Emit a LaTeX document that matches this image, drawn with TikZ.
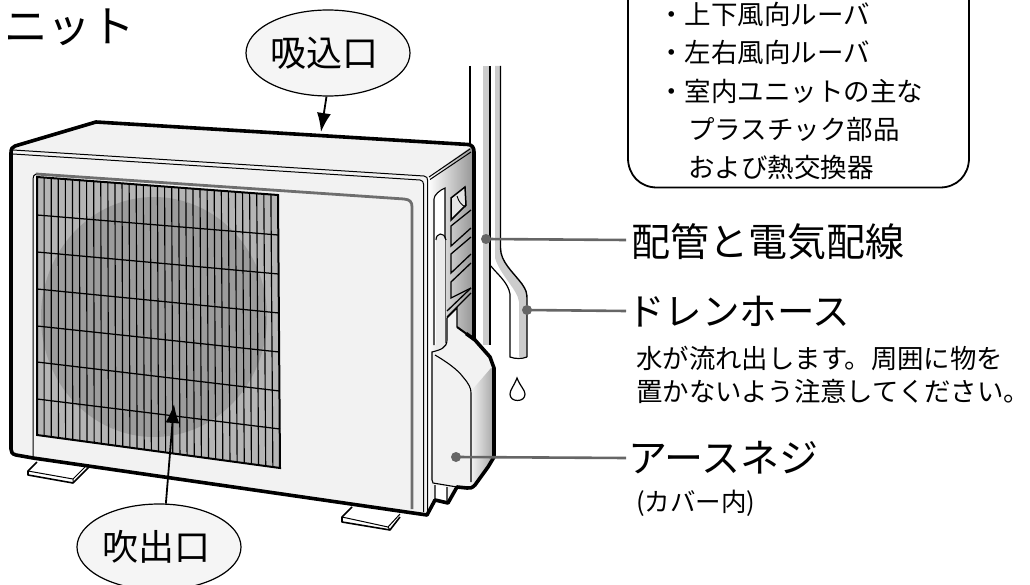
\documentclass[tikz,border=0pt]{standalone}
\usepackage{fontspec}
\setmainfont{Noto Sans CJK JP}
\usetikzlibrary{shapes.geometric,arrows.meta}
\definecolor{bodyc}{HTML}{F2F2F2}
\definecolor{leader}{HTML}{666666}
\definecolor{panelg}{HTML}{6E6E6E}
\definecolor{pipeg}{HTML}{CCCCCC}
\definecolor{barg}{HTML}{B5B5B5}
\definecolor{fang}{HTML}{9C9C9C}
\tikzset{
  ln/.style={line width=1.2pt,black},
  thick body/.style={line width=3.6pt,black,line join=round},
  bubble/.style={ellipse,draw=black,line width=1.2pt,fill=white!96!black,minimum width=164pt,minimum height=86pt,inner sep=0pt,font=\fontsize{36}{36}\selectfont},
  dotn/.style={circle,fill=leader,minimum size=10pt,inner sep=0pt},
  leadline/.style={draw=leader,line width=2.6pt},
  big/.style={anchor=base west,inner sep=0pt,font=\fontsize{39}{39}\selectfont},
  small/.style={anchor=base west,inner sep=0pt,font=\fontsize{26.4}{26.4}\selectfont},
  callt/.style={anchor=base west,inner sep=0pt,font=\fontsize{26.5}{26.5}\selectfont},
  arr/.style={line width=1.8pt,-{Latex[length=19pt,width=14pt]}},
  foot/.style={fill=white,draw=black,line width=1.6pt,line join=round}
}
\begin{document}
\begin{tikzpicture}[x=1pt,y=-1pt]
\useasboundingbox (0,0) rectangle (1030,585);
% wall line
\draw[line width=1.6pt] (470,66) -- (470,145);
% pipes
\fill[pipeg] (483,66) rectangle (489,345);
\fill[pipeg] (495,66) -- (500,66) -- (500,248) .. controls (500,262) and (512,272) .. (522,284) .. controls (526,290) and (527,292) .. (527,300) -- (527,357) -- (519,357) -- (519,302) .. controls (518,290) and (500,275) .. (495,258) -- cycle;
\draw[ln] (490,66) -- (490,345);
\draw[line width=1.4pt] (500.5,66) -- (500.5,248) .. controls (500.5,262) and (513,272) .. (522,284) .. controls (526,290) and (527,292) .. (527,300) -- (527,357);
\draw[ln] (490,265) .. controls (497,274) and (508,282) .. (510,294) -- (510,357) .. controls (515,359) and (522,359) .. (527,357);
% water drop
\draw[line width=1.2pt,fill=white] (517,378) .. controls (514,386) and (510,390) .. (510,394) .. controls (510,398) and (513,400.5) .. (517.5,400.5) .. controls (522,400.5) and (525,398) .. (525,394) .. controls (525,390) and (520,386) .. (517,378) -- cycle;
% feet
\draw[foot] (37,462) -- (28,471) -- (28,475) -- (73,483) -- (89,467);
\draw[line width=1pt] (28,471) -- (73,479) -- (85,467) (73,479) -- (73,483);
\draw[foot] (352,507) -- (342,517) -- (342,522) -- (390,530) -- (400,517);
\draw[line width=1pt] (342,517) -- (388,527) -- (400,514) (388,527) -- (390,530);
% body silhouette
\fill[bodyc] (11,153) -- (14,146) -- (96,122) -- (470,145) -- (474,150) -- (474,340) -- (457,340) -- (457,488) -- (448,503) -- (435,500) -- (427,515) -- (33,458) -- (14,454) -- (11,450) -- cycle;
% side face
\shade[left color=white,middle color=black!8,right color=black!42] (428,177) -- (471,147) -- (474,150) -- (474,345) -- (457,345) -- (432,352) -- (430,516) -- (428,515) -- cycle;
% top line pair
\draw[line width=1pt] (13,150) -- (424,176) .. controls (427,176.5) and (427.5,178) .. (427.5,180) -- (427.5,513);
\draw[line width=1pt] (13,154) -- (420,180) .. controls (422.5,180.5) and (423.5,182) .. (423.5,184) -- (423.5,512);
\draw[line width=1pt] (429,177) -- (470,149);
\draw[line width=1pt] (430,179.5) -- (471,152);
% inner panel
\draw[panelg,line width=2.8pt] (36,174) -- (404,199) .. controls (410,199.5) and (412,202) .. (412,207) -- (412,509);
\draw[line width=1pt] (33,458) -- (33,179) .. controls (33,176) and (34,175) .. (36,174);
% grille
\fill[barg] (37,177) -- (278,195) -- (280,468) -- (37,435) -- cycle;
\begin{scope}
\clip (37,177) -- (278,195) -- (280,468) -- (37,435) -- cycle;
\fill[fang] (154,317) ellipse [x radius=113,y radius=120];
\end{scope}
\foreach \i in {1,...,33}{
  \pgfmathsetmacro{\xa}{37+\i*241/34}
  \pgfmathsetmacro{\xb}{37+\i*243/34}
  \pgfmathsetmacro{\ya}{177+\i*18/34}
  \pgfmathsetmacro{\yb}{435+\i*33/34}
  \draw[line width=1.15pt] (\xa,\ya) -- (\xb,\yb);
}
\draw[line width=1.25pt] (37,215) -- (278,235) (37,252) -- (278.5,274) (37,289) -- (279,313) (37,326) -- (279,352) (37,362) -- (279.5,391) (37,399) -- (280,429);
\draw[line width=2pt,line join=miter] (37,177) -- (278,195) -- (280,468) -- (37,435) -- cycle;
% side details
\draw[line width=1.1pt,fill=white] (434,345) -- (434,199) .. controls (434,195) and (440,190) .. (445,188) -- (445,343);
\fill[black!8] (436,350) -- (436,240) .. controls (436,233) and (444,233) .. (445,240) -- (445,350) -- cycle;
\draw[line width=1.1pt] (436,240) .. controls (436,233) and (444,231) .. (446,240);
\draw[line width=1.5pt,fill=white!90!black] (451,198) -- (465,187) -- (466,205) -- (451,220) -- cycle;
\draw[line width=.9pt] (457,196) .. controls (459,202) and (461,205) .. (466,207);
\draw[line width=1.3pt] (471,210) -- (451,226) -- (451,246) -- (471,228);
\draw[line width=1.3pt] (471,237) -- (451,254) -- (451,273) -- (471,254);
\draw[line width=1.3pt] (471,263) -- (451,282) -- (451,298) -- (471,288);
\draw[line width=1.3pt] (471,288) -- (447,311) (471,293) -- (447,317);
% cover
\path[fill=bodyc] (432,352) .. controls (440,350) and (447,348) .. (447,340) -- (447,318) -- (457,308) -- (457,327) -- (475,340) -- (490,357) -- (494,368) -- (494,457) -- (488,467) -- (475,485) -- (470,488) -- (433,483) -- (432,480) -- cycle;
\shade[left color=black!5,right color=black!35] (472,390) -- (491,368) -- (494,368) -- (494,457) -- (488,467) -- (475,485) -- (471,487) -- cycle;
\draw[line width=1.1pt] (447,318) -- (447,340) .. controls (447,348) and (440,350) .. (432,352) -- (432,480) -- (433,483) -- (457,487);
\draw[line width=1.1pt] (447,318) -- (457,308) -- (457,327);
\draw[line width=1.1pt] (435,355) .. controls (447,362) and (458,370) .. (463,377) .. controls (469,384) and (471,388) .. (471,393) -- (471,482);
\draw[line width=1.1pt,fill=white] (435,485) -- (435,500) -- (447,503) -- (447,487);
% outline
\draw[thick body] (11,153) .. controls (11,149) and (12,147) .. (15,146) -- (96,122) -- (468,144.5) .. controls (472,145) and (474,147) .. (474,152) -- (474,340);
\draw[line width=2pt] (457,327) -- (466,333.5);
\draw[thick body] (466,333.5) -- (475,340) -- (490,357) -- (494,368) -- (494,457) -- (488,467) -- (475,485) .. controls (472,488) and (470,488.5) .. (467,488) -- (457,487) -- (448,503) -- (435,500) -- (427,515) -- (33,458) -- (16,455) .. controls (12,454) and (11,452) .. (11,449) -- (11,153);
% callout
\draw[line width=1.8pt] (628,-5) -- (628,158) .. controls (628,175) and (640,187.5) .. (657,187.5) -- (940,187.5) .. controls (957,187.5) and (969,175) .. (969,158) -- (969,-5);
\node[callt] (c1) at (658,25) {・上下風向ルーバ};
\node[callt] (c2) at (658,63) {・左右風向ルーバ};
\node[callt] (c3) at (658,102) {・室内ユニットの主な};
\node[callt] (c4) at (688,140) {プラスチック部品};
\node[callt] (c5) at (688,178) {および熱交換器};
% bubbles
\coordinate (aA) at (321,132);
\coordinate (aB) at (174,404);
\node[bubble] (elA) at (328,53) {\hspace*{-7pt}吸込口};
\node[bubble] (elB) at (159,547) {\hspace*{-6pt}吹出口};
\draw[arr] (elA.268) -- (aA);
\draw[arr] (elB.81) -- (aB);
% labels
\node[anchor=base west,inner sep=0pt,font=\fontsize{43.5}{43.5}\selectfont] (title) at (4,43) {ニット};
\node[big] (t1) at (631,257) {配管と電気配線};
\node[big,font=\fontsize{37.5}{37.5}\selectfont] (t2) at (627,325) {ドレンホース};
\node[big] (t3) at (628,472) {アースネジ};
\node[small] (n1) at (636,368) {水が流れ出します。周囲に物を};
\node[small] (n2) at (636,401) {置かないよう注意してください。};
\node[small,font=\fontsize{25.5}{25.5}\selectfont] (n3) at (636,511) {(カバー内)};
% leaders
\coordinate (e1) at (626,240);
\coordinate (e2) at (626,311);
\coordinate (e3) at (626,458);
\node[dotn] (d1) at (486,239) {};
\node[dotn] (d2) at (527,310) {};
\node[dotn] (d3) at (456,457) {};
\draw[leadline] (d1.center) -- (e1);
\draw[leadline] (d2.center) -- (e2);
\draw[leadline] (d3.center) -- (e3);
\end{tikzpicture}
\end{document}
